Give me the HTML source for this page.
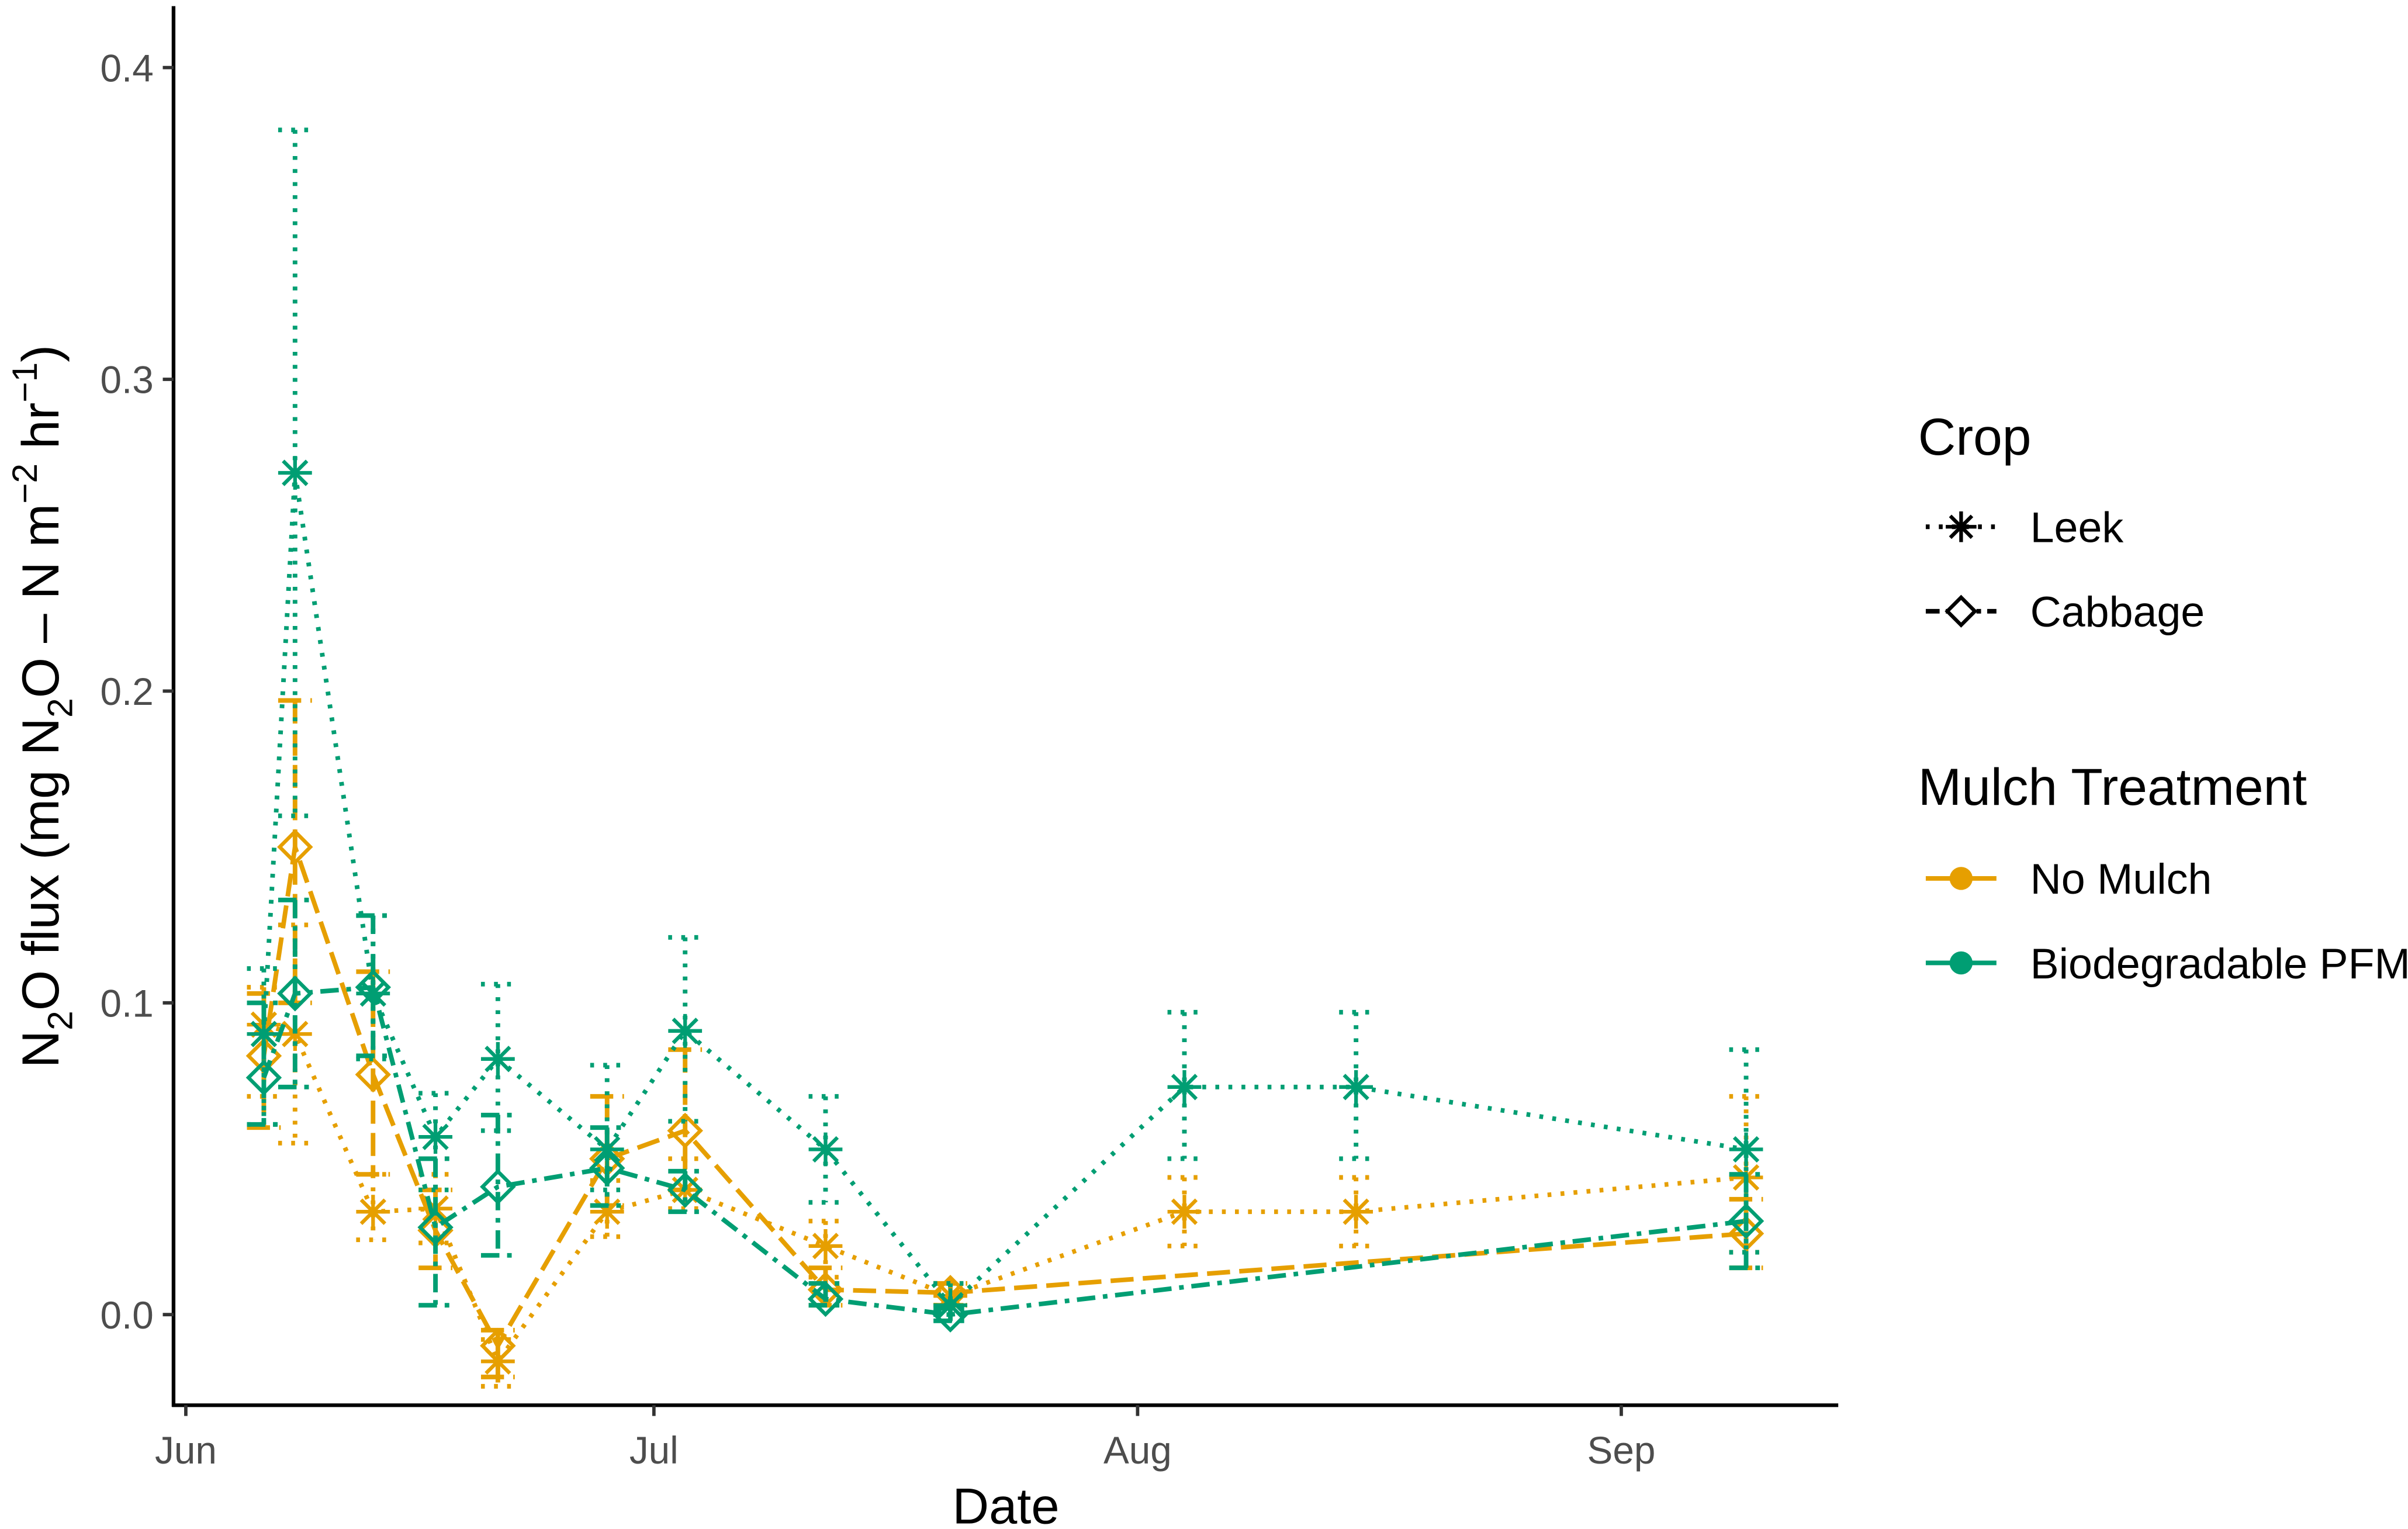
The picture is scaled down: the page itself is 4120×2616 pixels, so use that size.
<!DOCTYPE html>
<html><head><meta charset="utf-8"><style>
html,body{margin:0;padding:0;background:#fff}
svg{display:block}
text{font-family:"Liberation Sans",Arial,sans-serif}
</style></head><body>
<svg id="chart" width="4120" height="2616" viewBox="0 0 1568 995.6" preserveAspectRatio="none" xmlns="http://www.w3.org/2000/svg">
<g id="plot"></g>
<g id="axes"></g>
<g id="legend"></g>
</svg>
<script>
// Days since Jun 1
const days = [5,7,12,16,20,27,32,41,49,64,75,100];
const cabDays = [5,7,12,16,20,27,32,41,49,100];
const greenLeek = [0.090,0.270,0.103,0.057,0.082,0.053,0.091,0.053,0.003,0.073,0.073,0.053];
const greenLeekLo = [0.061,0.160,0.082,0.040,0.059,0.040,0.062,0.036,0.000,0.050,0.050,0.020];
const greenLeekHi = [0.111,0.380,0.128,0.071,0.106,0.080,0.121,0.070,0.010,0.097,0.097,0.085];
const orangeLeek = [0.093,0.090,0.033,0.034,-0.015,0.033,0.040,0.022,0.006,0.033,0.033,0.044];
const orangeLeekLo = [0.070,0.055,0.024,0.023,-0.023,0.025,0.034,0.012,0.003,0.022,0.022,0.020];
const orangeLeekHi = [0.105,0.125,0.045,0.045,-0.008,0.043,0.050,0.030,0.010,0.044,0.044,0.070];
const greenCab = [0.076,0.103,0.105,0.028,0.041,0.047,0.040,0.005,0.000,0.030];
const greenCabLo = [0.061,0.073,0.083,0.003,0.019,0.035,0.033,0.003,-0.002,0.015];
const greenCabHi = [0.100,0.133,0.128,0.050,0.064,0.060,0.046,0.010,0.002,0.045];
const orangeCab = [0.083,0.150,0.077,0.027,-0.010,0.050,0.059,0.008,0.007,0.026];
const orangeCabLo = [0.060,0.100,0.045,0.015,-0.020,0.035,0.040,0.003,0.003,0.015];
const orangeCabHi = [0.103,0.197,0.110,0.040,-0.005,0.070,0.085,0.015,0.010,0.037];
const yTicks = [0.0,0.1,0.2,0.3,0.4];
const yTickLabels = ["0.0","0.1","0.2","0.3","0.4"];
const xTicks = [0,30,61,92];
const xTickLabels = ["Jun","Jul","Aug","Sep"];

const NS="http://www.w3.org/2000/svg";
const X = d => 121 + d*10.16;
const Y = v => 856 - v*2030;
function mk(tag, attrs, parent){const e=document.createElementNS(NS,tag);for(const k in attrs)e.setAttribute(k,attrs[k]);parent.appendChild(e);return e;}
const plot=document.getElementById('plot'), axes=document.getElementById('axes'), legend=document.getElementById('legend');
const GREEN="#009E73", ORANGE="#E69F00";
const DOT="2.5,6", CABO="15,6", CABG="12,5,3,5";
const SW=3;

function asterisk(g,cx,cy,col,r){
  for(let a=0;a<4;a++){const t=a*Math.PI/4;
    const l=mk('line',{x1:cx-r*Math.cos(t),y1:cy-r*Math.sin(t),x2:cx+r*Math.cos(t),y2:cy+r*Math.sin(t),stroke:col,'stroke-width':2.4},g);
    
    }
}
function diamond(g,cx,cy,col,r){
  const p=mk('polygon',{points:`${cx},${cy-r} ${cx+r},${cy} ${cx},${cy+r} ${cx-r},${cy}`,fill:'none',stroke:col,'stroke-width':2.4},g);
  
  
}
function series(name,dd,vals,lo,hi,col,dash,shape){
  const g=mk('g',{},plot);
  
  
  dd.forEach((d,i)=>{
    const x=X(d);
    const eb=mk('path',{d:`M${x-11},${Y(hi[i])}H${x+11}M${x},${Y(hi[i])}V${Y(lo[i])}M${x-11},${Y(lo[i])}H${x+11}`,stroke:col,'stroke-width':SW,fill:'none','stroke-dasharray':dash},g);
    
    
  });
  const pl=mk('polyline',{points:dd.map((d,i)=>X(d)+','+Y(vals[i])).join(' '),stroke:col,'stroke-width':SW,fill:'none','stroke-dasharray':dash},g);
  
  
  dd.forEach((d,i)=>{ if(shape==='a') asterisk(g,X(d),Y(vals[i]),col,11); else diamond(g,X(d),Y(vals[i]),col,10); });
}
series('no-mulch-leek',days,orangeLeek,orangeLeekLo,orangeLeekHi,ORANGE,DOT,'a');
series('no-mulch-cabbage',cabDays,orangeCab,orangeCabLo,orangeCabHi,ORANGE,CABO,'d');
series('pfm-cabbage',cabDays,greenCab,greenCabLo,greenCabHi,GREEN,CABG,'d');
series('pfm-leek',days,greenLeek,greenLeekLo,greenLeekHi,GREEN,DOT,'a');

// axes
let e=mk('line',{x1:113,y1:4,x2:113,y2:916,stroke:'#000','stroke-width':2.4},axes);
 
e=mk('line',{x1:112,y1:915,x2:1197,y2:915,stroke:'#000','stroke-width':2.4},axes);
 
yTicks.forEach((v,i)=>{
  const t=mk('line',{x1:106,y1:Y(v),x2:113,y2:Y(v),stroke:'#333','stroke-width':2.2},axes);
   
  const l=mk('text',{x:100,y:Y(v)+9,'text-anchor':'end','font-size':25,fill:'#4d4d4d'},axes);
  l.textContent=yTickLabels[i];
   
});
xTicks.forEach((d,i)=>{
  const t=mk('line',{x1:X(d),y1:915,x2:X(d),y2:922,stroke:'#333','stroke-width':2.2},axes);
   
  const l=mk('text',{x:X(d),y:953,'text-anchor':'middle','font-size':25,fill:'#4d4d4d'},axes);
  l.textContent=xTickLabels[i];
   
});
</script>
<script>
(function(){
const NS="http://www.w3.org/2000/svg";
const axes=document.getElementById('axes'), legend=document.getElementById('legend');
function mk(tag, attrs, parent){const e=document.createElementNS(NS,tag);for(const k in attrs)e.setAttribute(k,attrs[k]);parent.appendChild(e);return e;}
let t=mk('text',{x:655,y:992,'text-anchor':'middle','font-size':33,fill:'#000'},axes);
t.textContent='Date';
 
t=mk('text',{transform:'translate(38,460) rotate(-90)','text-anchor':'middle','font-size':34,fill:'#000'},axes);
t.innerHTML='N<tspan font-size="23" dy="9">2</tspan><tspan dy="-9">O flux (mg N</tspan><tspan font-size="23" dy="9">2</tspan><tspan dy="-9">O – N m</tspan><tspan font-size="23" dy="-14">−2</tspan><tspan dy="14"> hr</tspan><tspan font-size="23" dy="-14">−1</tspan><tspan dy="14">)</tspan>';
 

function txt(x,y,s,size,name){const e=mk('text',{x:x,y:y,'font-size':size,fill:'#000'},legend);e.textContent=s;
  return e;}
txt(1249,296,'Crop',34,'legend-title-crop');
txt(1322,353,'Leek',28,'legend-label-leek');
txt(1322,408,'Cabbage',28,'legend-label-cabbage');
txt(1249,524,'Mulch Treatment',34,'legend-title-mulch');
txt(1322,582,'No Mulch',28,'legend-label-no-mulch');
txt(1322,637,'Biodegradable PFM',28,'legend-label-pfm');
let l=mk('line',{x1:1254,y1:343,x2:1300,y2:343,stroke:'#000','stroke-width':3,'stroke-dasharray':'2.5,6'},legend);
 
for(let a=0;a<4;a++){const th=a*Math.PI/4;const s=mk('line',{x1:1277-10*Math.cos(th),y1:343-10*Math.sin(th),x2:1277+10*Math.cos(th),y2:343+10*Math.sin(th),stroke:'#000','stroke-width':2.4},legend);
  }
l=mk('line',{x1:1254,y1:398,x2:1300,y2:398,stroke:'#000','stroke-width':3,'stroke-dasharray':'9,4,3,4'},legend);
 
let p=mk('polygon',{points:'1277,389 1286,398 1277,407 1268,398',fill:'#fff',stroke:'#000','stroke-width':2.4},legend);
 
[['#E69F00',572,'legend-key-no-mulch'],['#009E73',627,'legend-key-pfm']].forEach(([c,y,n])=>{
  const ln=mk('line',{x1:1254,y1:y,x2:1300,y2:y,stroke:c,'stroke-width':3},legend);
   
  const ci=mk('circle',{cx:1277,cy:y,r:7.5,fill:c},legend);
   
});
})();
</script>
</body></html>
